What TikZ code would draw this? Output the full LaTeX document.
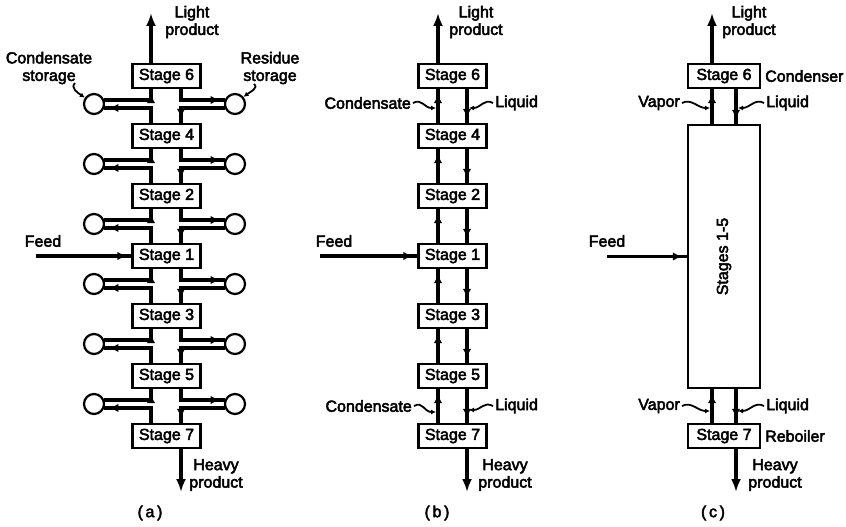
\documentclass[tikz,border=0pt]{standalone}
\usepackage{fontspec}
\setmainfont{Liberation Sans}[BoldFont={Liberation Sans},BoldFeatures={FakeBold=3}]
\usetikzlibrary{arrows.meta,decorations.markings}
\begin{document}
\begin{tikzpicture}[x=1pt,y=-1pt,
  every node/.style={font=\fontsize{16}{17.5}\selectfont\bfseries},
  stg/.style={draw,line width=2.2pt,minimum width=68pt,minimum height=24pt,inner sep=0pt},
  tank/.style={draw,circle,line width=2.2pt,minimum size=20pt,inner sep=0pt},
  flow/.style={line width=3.1pt},
  prod/.style={line width=3.4pt,-{Latex[length=13pt,width=10pt]}},
  midarr/.style={postaction={decorate},decoration={markings,mark=at position -5pt with {\arrow{Latex[length=9pt,width=8.5pt]}}}},
  lead/.style={line width=1.8pt,-{Latex[length=5pt,width=5pt]}},
  lbl/.style={inner sep=0pt,align=center}
]
\useasboundingbox (0,0) rectangle (846,527);

% ---------------- panel (a) ----------------
\coordinate (aX) at (151,0);
\coordinate (aY) at (181,0);
\foreach \n/\y in {6/76,4/136,2/196,1/256,3/316,5/376,7/436}
  \node[stg] (a\n) at (166.5,\y) {Stage \n};
\foreach \u/\l/\cy [count=\i] in {6/4/104,4/2/164,2/1/224,1/3/284,3/5/344,5/7/404}{
  \node[tank] (al\i) at (94,\cy) {};
  \node[tank] (ar\i) at (235,\cy) {};
  \draw[flow,midarr] (a\l.north -| aX) |- (al\i.-21);
  \draw[flow,midarr] (al\i.21) -| (a\u.south -| aX);
  \draw[flow,midarr] (a\u.south -| aY) |- (ar\i.159);
  \draw[flow,midarr] (ar\i.201) -| (a\l.north -| aY);
}
\coordinate (aTop) at (151,13);
\coordinate (aBot) at (181,492);
\coordinate (aFeed) at (36,256);
\draw[prod] (a6.north -| aX) -- (aTop);
\draw[prod] (a7.south -| aY) -- (aBot);
\draw[flow,midarr] (aFeed) -- (a1.west);
\node[lbl] (aLight) at (192,22) {Light\\product};
\node[lbl] (aHeavy) at (216,475) {Heavy\\product};
\node[lbl] (aFeedL) at (43,241) {Feed};
\node[lbl] (aCap) at (150,513) {(\,a\,)};
\node[lbl] (csto) at (49,68) {Condensate\\storage};
\node[lbl] (rsto) at (270,68) {Residue\\storage};
\coordinate (cs0) at (75,83);
\coordinate (rs0) at (254,84);
\draw[lead] (cs0) .. controls (70,88) and (78,93) .. (al1.145);
\draw[lead] (rs0) .. controls (259,88) and (250,92) .. (ar1.40);

% ---------------- panel (b) ----------------
\coordinate (bX) at (438,0);
\coordinate (bY) at (467,0);
\foreach \n/\y in {6/76,4/136,2/196,1/256,3/316,5/376,7/436}
  \node[stg] (b\n) at (452.5,\y) {Stage \n};
\foreach \u/\l in {6/4,4/2,2/1,1/3,3/5,5/7}{
  \draw[flow,midarr] (b\l.north -| bX) -- (b\u.south -| bX);
  \draw[flow,midarr] (b\u.south -| bY) -- (b\l.north -| bY);
}
\coordinate (bTop) at (438,13);
\coordinate (bBot) at (467,492);
\coordinate (bFeed) at (320,256);
\draw[prod] (b6.north -| bX) -- (bTop);
\draw[prod] (b7.south -| bY) -- (bBot);
\draw[flow,midarr] (bFeed) -- (b1.west);
\node[lbl] (bLight) at (476,22) {Light\\product};
\node[lbl] (bHeavy) at (505,475) {Heavy\\product};
\node[lbl] (bFeedL) at (334,241) {Feed};
\node[lbl] (bCap) at (437,513) {(\,b\,)};
\node[lbl,anchor=east] (bc1) at (411,103) {Condensate};
\node[lbl,anchor=west] (bq1) at (495,103) {Liquid};
\node[lbl,anchor=east] (bc2) at (412,406) {Condensate};
\node[lbl,anchor=west] (bq2) at (495,406) {Liquid};
\coordinate (bt1) at (436,108);
\coordinate (bt2) at (469,108);
\coordinate (bt3) at (436,412);
\coordinate (bt4) at (469,410);
\draw[lead] ([xshift=2pt]bc1.east) .. controls +(9,-5) and +(-12,0) .. (bt1);
\draw[lead] ([xshift=-2pt]bq1.west) .. controls +(-9,-5) and +(12,0) .. (bt2);
\draw[lead] ([xshift=2pt]bc2.east) .. controls +(9,-5) and +(-12,0) .. (bt3);
\draw[lead] ([xshift=-2pt]bq2.west) .. controls +(-9,-5) and +(12,0) .. (bt4);

% ---------------- panel (c) ----------------
\coordinate (cX) at (712,0);
\coordinate (cY) at (736,0);
\node[stg,minimum width=72pt] (c6) at (724,76) {Stage 6};
\node[stg,minimum width=72pt] (c7) at (724,436) {Stage 7};
\node[stg,minimum width=72pt,minimum height=263pt] (cb) at (724,256.5) {};
\node[rotate=90] (cbt) at (cb.center) {Stages 1-5};
\draw[flow,midarr] (cb.north -| cX) -- (c6.south -| cX);
\draw[flow,midarr] (c6.south -| cY) -- (cb.north -| cY);
\draw[flow,midarr] (c7.north -| cX) -- (cb.south -| cX);
\draw[flow,midarr] (cb.south -| cY) -- (c7.north -| cY);
\coordinate (cTop) at (712,13);
\coordinate (cBot) at (736,492);
\coordinate (cFeed) at (607,256.5);
\draw[prod] (c6.north -| cX) -- (cTop);
\draw[prod] (c7.south -| cY) -- (cBot);
\draw[flow,midarr] (cFeed) -- (cb.west);
\node[lbl] (cLight) at (749,22) {Light\\product};
\node[lbl] (cHeavy) at (775,475) {Heavy\\product};
\node[lbl] (cFeedL) at (607,241) {Feed};
\node[lbl] (cCap) at (713,513) {(\,c\,)};
\node[lbl,anchor=west] (cCond) at (765,76) {Condenser};
\node[lbl,anchor=west] (cReb) at (765,436) {Reboiler};
\node[lbl,anchor=east] (cv1) at (680,103) {Vapor};
\node[lbl,anchor=west] (cq1) at (766,103) {Liquid};
\node[lbl,anchor=east] (cv2) at (680,406) {Vapor};
\node[lbl,anchor=west] (cq2) at (766,406) {Liquid};
\coordinate (ct1) at (710,108);
\coordinate (ct2) at (738,108);
\coordinate (ct3) at (710,411);
\coordinate (ct4) at (738,411);
\draw[lead] ([xshift=2pt]cv1.east) .. controls +(9,-5) and +(-12,0) .. (ct1);
\draw[lead] ([xshift=-2pt]cq1.west) .. controls +(-9,-5) and +(12,0) .. (ct2);
\draw[lead] ([xshift=2pt]cv2.east) .. controls +(9,-5) and +(-12,0) .. (ct3);
\draw[lead] ([xshift=-2pt]cq2.west) .. controls +(-9,-5) and +(12,0) .. (ct4);
\end{tikzpicture}
\end{document}
